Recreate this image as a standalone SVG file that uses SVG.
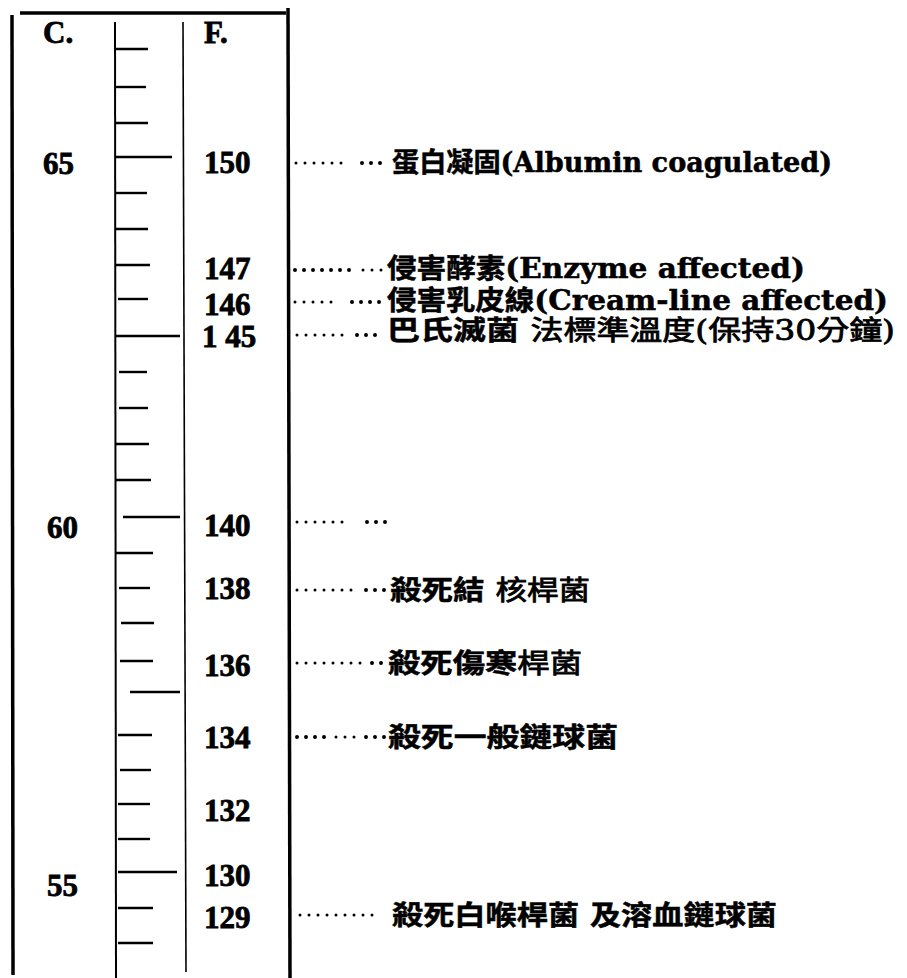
<svg xmlns="http://www.w3.org/2000/svg" width="907" height="978" viewBox="0 0 907 978">
<style>
.frame{stroke:#000;fill:none;stroke-linecap:butt}
.tick{stroke:#000;stroke-width:2.4}
.num{font-family:"Liberation Serif","Noto Sans CJK TC",serif;font-weight:bold;font-size:31px;fill:#000;stroke:#000;stroke-width:0.8}
.lbl{font-family:"DejaVu Serif","Noto Sans CJK TC",serif;font-weight:bold;font-size:27px;fill:#000;stroke:#000;stroke-width:0.5}
.lt{font-weight:normal;stroke-width:0.8}
.dot{stroke:#000;stroke-width:4;stroke-linecap:round;stroke-dasharray:0 9;fill:none}
.sdot{stroke:#000;stroke-width:3;stroke-linecap:round;stroke-dasharray:0 9;fill:none}
</style>
<rect width="907" height="978" fill="#fff"/>
<g id="frame">
<line class="frame" x1="20" y1="13" x2="286" y2="13" stroke-width="3.5"/>
<line class="frame" x1="12" y1="15" x2="13" y2="975" stroke-width="3.5"/>
<line class="frame" x1="115" y1="22" x2="116" y2="978" stroke-width="2"/>
<line class="frame" x1="183" y1="22" x2="186" y2="972" stroke-width="1.6"/>
<line class="frame" x1="288" y1="8" x2="290" y2="978" stroke-width="3.5"/>
</g>
<g id="ticks">
<line class="tick" x1="115" y1="49" x2="148" y2="49"/>
<line class="tick" x1="115" y1="87" x2="146" y2="87"/>
<line class="tick" x1="115" y1="123" x2="148" y2="123"/>
<line class="tick" x1="115" y1="157" x2="172" y2="157"/>
<line class="tick" x1="115" y1="193" x2="147" y2="193"/>
<line class="tick" x1="115" y1="229" x2="148" y2="229"/>
<line class="tick" x1="115" y1="265" x2="150" y2="265"/>
<line class="tick" x1="118" y1="299" x2="148" y2="299"/>
<line class="tick" x1="115" y1="336" x2="180" y2="336"/>
<line class="tick" x1="119" y1="372" x2="147" y2="372"/>
<line class="tick" x1="119" y1="408" x2="148" y2="408"/>
<line class="tick" x1="115" y1="444" x2="149" y2="444"/>
<line class="tick" x1="115" y1="480" x2="151" y2="480"/>
<line class="tick" x1="123" y1="517" x2="180" y2="517"/>
<line class="tick" x1="115" y1="553" x2="153" y2="553"/>
<line class="tick" x1="119" y1="588" x2="150" y2="588"/>
<line class="tick" x1="121" y1="623" x2="154" y2="623"/>
<line class="tick" x1="120" y1="661" x2="153" y2="661"/>
<line class="tick" x1="130" y1="692" x2="180" y2="692"/>
<line class="tick" x1="118" y1="735" x2="152" y2="735"/>
<line class="tick" x1="120" y1="770" x2="151" y2="770"/>
<line class="tick" x1="118" y1="804" x2="150" y2="804"/>
<line class="tick" x1="118" y1="839" x2="150" y2="839"/>
<line class="tick" x1="118" y1="872" x2="177" y2="872"/>
<line class="tick" x1="118" y1="908" x2="153" y2="908"/>
<line class="tick" x1="118" y1="943" x2="153" y2="943"/>
</g>
<g id="celsius">
<text class="num" x="43" y="43">C.</text>
<text class="num" x="43" y="174">65</text>
<text class="num" x="47" y="538">60</text>
<text class="num" x="47" y="896">55</text>
</g>
<g id="fahrenheit">
<text class="num" x="204" y="43">F.</text>
<text class="num" x="204" y="173">150</text>
<text class="num" x="204" y="279">147</text>
<text class="num" x="204" y="315">146</text>
<text class="num" x="202" y="347">1 45</text>
<text class="num" x="204" y="536">140</text>
<text class="num" x="204" y="599">138</text>
<text class="num" x="204" y="676">136</text>
<text class="num" x="204" y="748">134</text>
<text class="num" x="204" y="821">132</text>
<text class="num" x="204" y="886">130</text>
<text class="num" x="204" y="928">129</text>
</g>
<g id="connectors">
<path class="sdot" d="M296 163H342"/><path class="dot" d="M362 163H384"/>
<path class="dot" d="M295 270H350"/><path class="sdot" d="M363 270H384"/>
<path class="sdot" d="M295 302H340"/><path class="dot" d="M352 302H384"/>
<path class="sdot" d="M297 335H345"/><path class="dot" d="M357 335H384"/>
<path class="sdot" d="M297 522H345"/><path class="dot" d="M367 522H393"/>
<path class="sdot" d="M297 590H360"/><path class="dot" d="M366 590H385"/>
<path class="sdot" d="M297 663H366"/><path class="dot" d="M372 663H384"/>
<path class="dot" d="M297 737H330"/><path class="sdot" d="M336 737H360"/><path class="dot" d="M366 737H385"/>
<path class="sdot" d="M300 915H375"/>
</g>
<g id="row150"><text class="lbl" x="392" y="172" textLength="440" lengthAdjust="spacingAndGlyphs">蛋白凝固(Albumin coagulated)</text></g>
<g id="row147"><text class="lbl" x="387" y="278" textLength="418" lengthAdjust="spacingAndGlyphs">侵害酵素(Enzyme affected)</text></g>
<g id="row146"><text class="lbl" x="387" y="310" textLength="501" lengthAdjust="spacingAndGlyphs">侵害乳皮線(Cream-line affected)</text></g>
<g id="row145"><text class="lbl" x="387" y="340" textLength="508" lengthAdjust="spacingAndGlyphs">巴氏滅菌 <tspan class="lt">法標準溫度(保持30分鐘)</tspan></text></g>
<g id="row138"><text class="lbl" x="390" y="600" textLength="200" lengthAdjust="spacingAndGlyphs">殺死結 <tspan class="lt">核桿菌</tspan></text></g>
<g id="row136"><text class="lbl" x="388" y="673" textLength="194" lengthAdjust="spacingAndGlyphs">殺死傷寒<tspan class="lt">桿菌</tspan></text></g>
<g id="row134"><text class="lbl" x="388" y="747" textLength="230" lengthAdjust="spacingAndGlyphs">殺死一般鏈球菌</text></g>
<g id="row129"><text class="lbl" x="392" y="925" textLength="385" lengthAdjust="spacingAndGlyphs">殺死白喉桿菌 及溶血鏈球菌</text></g>
</svg>
